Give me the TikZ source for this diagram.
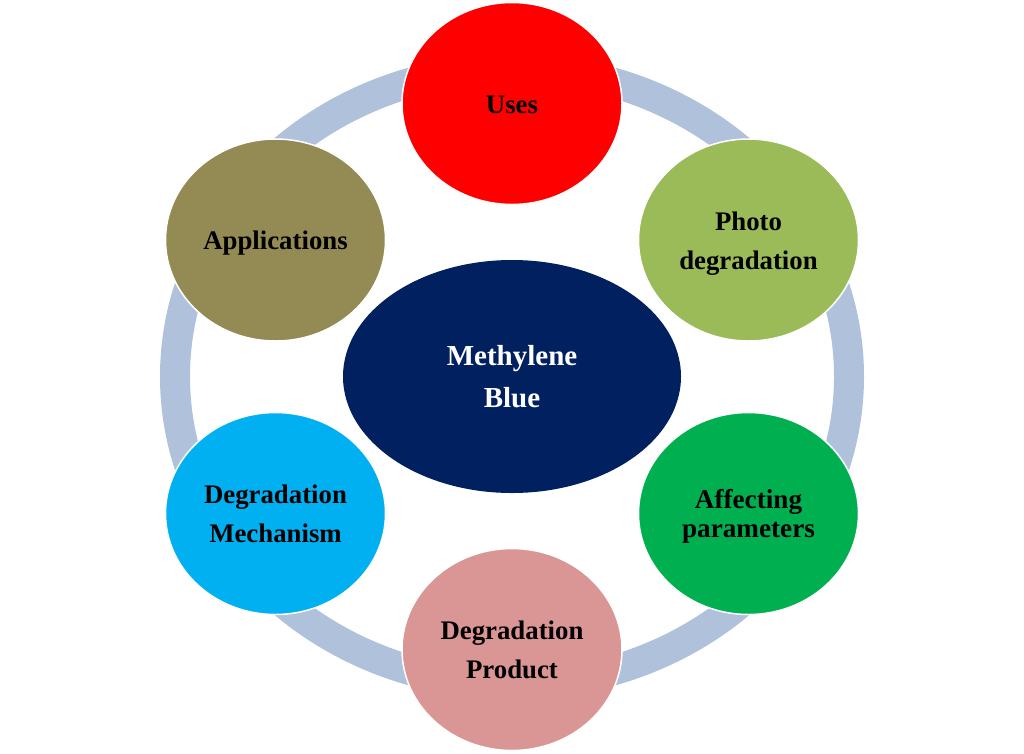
\documentclass[tikz,border=0pt]{standalone}
\usepackage{fontspec}
\setmainfont{Liberation Serif}
\usetikzlibrary{shapes.geometric}
\definecolor{ringc}{HTML}{B0C1DC}
\newcommand{\lowertxt}[2]{\raisebox{-#1pt}[\height][\depth]{#2}}
\tikzset{
 bub/.style={ellipse,draw=white,line width=1.5pt,minimum width=220pt,minimum height=202pt,inner sep=0pt,align=center,font=\bfseries\fontsize{26.8}{39}\selectfont,text=black},
}
\begin{document}
\begin{tikzpicture}[x=1pt,y=-1pt]
\useasboundingbox (0,0) rectangle (1024,753);
\fill[white] (0,0) rectangle (1024,753);
\coordinate (c) at (512,376.5);
\draw[ringc,line width=30pt] (c) ellipse [x radius=337,y radius=308];
\node[bub,fill={rgb,255:red,255;green,0;blue,0}] (uses) at (512,103.5) {\lowertxt{1}{Uses}};
\node[bub,fill={rgb,255:red,155;green,187;blue,89}] (photo) at (748.5,240) {\lowertxt{4}{Photo}\\\lowertxt{4}{degradation}};
\node[bub,fill={rgb,255:red,0;green,176;blue,80},font=\bfseries\fontsize{27.2}{29}\selectfont] (aff) at (748.5,513.5) {\lowertxt{3}{Affecting}\\\lowertxt{3}{parameters}};
\node[bub,fill={rgb,255:red,217;green,150;blue,148}] (prod) at (512,649.5) {Degradation\\Product};
\node[bub,fill={rgb,255:red,0;green,176;blue,240}] (mech) at (275.5,513.5) {Degradation\\Mechanism};
\node[bub,fill={rgb,255:red,148;green,138;blue,84}] (app) at (275.5,240) {\lowertxt{3}{Applications}};
\node[bub,draw=none,minimum width=338pt,minimum height=233pt,fill={rgb,255:red,0;green,32;blue,96},text=white,font=\bfseries\fontsize{29}{42}\selectfont] (mb) at (512,376.5) {Methylene\\Blue};
\end{tikzpicture}
\end{document}
